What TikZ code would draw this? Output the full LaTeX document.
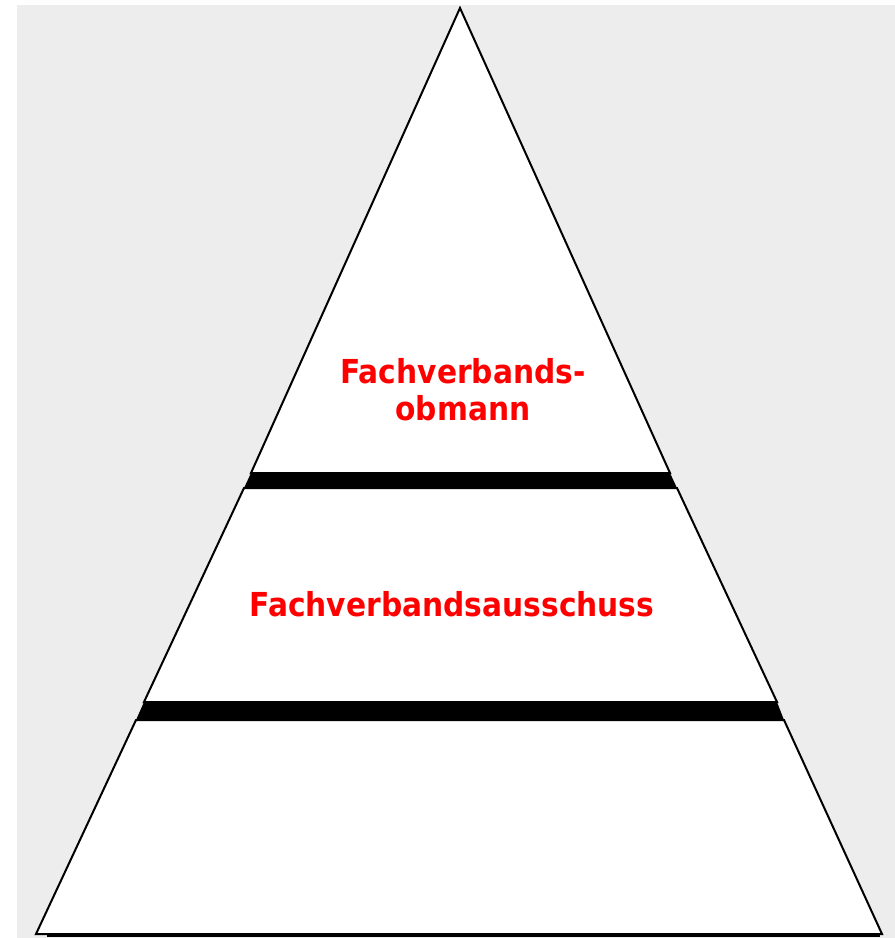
\documentclass[tikz,border=0pt]{standalone}
\usepackage{fontspec}
\newfontfamily\layerfont{DejaVu Sans Condensed}
\definecolor{canvas}{RGB}{237,237,237}
\definecolor{alarm}{RGB}{255,0,0}
\usepackage{tikz}
\usepackage{xcolor}
\usetikzlibrary{positioning}
\newcommand{\layertext}[1]{\textbf{\textcolor{alarm}{#1}}}

\tikzset{
  layer/.style={draw=black, line width=2pt, fill=white, line join=miter},
  gap/.style={fill=black},
  label/.style={font=\layerfont\fontsize{33}{37}\selectfont, align=center, inner sep=0pt}
}

\begin{document}
\begin{tikzpicture}[x=1pt, y=-1pt]
                \useasboundingbox (0,0) rectangle (895,938);
                \fill[canvas] (17,5) rectangle (895,938);
                % black gaps between the layers
                \fill[gap] (251,473) -- (670,473) -- (677,488) -- (244,488) -- cycle;
                \fill[gap] (144,702) -- (777,702) -- (784,720) -- (136,720) -- cycle;
                \fill[gap] (47,933) rectangle (880,937);
                % layers
                \draw[layer] (460,8) -- (670,473) -- (251,473) -- cycle;
                \draw[layer] (244,488) -- (677,488) -- (777,702) -- (144,702) -- cycle;
                \draw[layer] (136,720) -- (784,720) -- (882,934) -- (36,934) -- cycle;
                % texts
                \node[label, anchor=base] (obmann) at (463,420) {\layertext{Fachverbands-}\\\layertext{obmann}};
                \node[label, anchor=base] (ausschuss) at (452,616) {\layertext{Fachverbandsausschuss}};
\end{tikzpicture}
\end{document}
